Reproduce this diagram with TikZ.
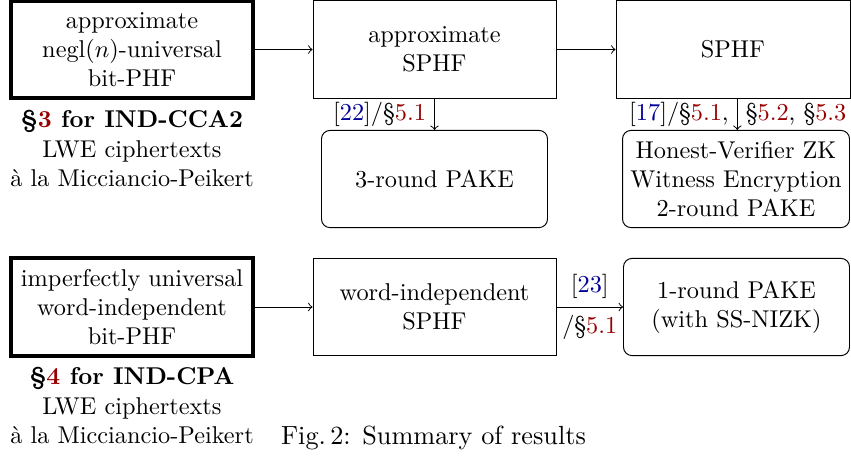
\documentclass[tikz,border=0pt]{standalone}
\usepackage{xcolor}
\definecolor{citeblue}{rgb}{0,0,0.6}
\definecolor{secred}{rgb}{0.6,0,0}
\begin{document}
\begin{tikzpicture}[x=0.41152pt,y=-0.41152pt,
  thickbox/.style={draw,line width=1.6pt,minimum width=99.6pt,minimum height=40pt,align=center,inner sep=0pt},
  plainbox/.style={draw,line width=0.4pt,minimum width=100pt,minimum height=40.3pt,align=center,inner sep=0pt},
  roundbox/.style={draw,line width=0.4pt,rounded corners=3.5pt,minimum width=93pt,minimum height=40pt,align=center,inner sep=0pt},
  arr/.style={->,line width=0.4pt},
  lbl/.style={inner sep=3.33pt}]
\useasboundingbox (0,0) rectangle (851,458);
\node[thickbox] (b1) at (132,49.5) {approximate\\negl$(n)$-universal\\bit-PHF};
\node[plainbox] (b2) at (434.5,49.5) {approximate\\SPHF};
\node[plainbox,minimum width=96.3pt] (b3) at (733,49.5) {SPHF};
\node[roundbox] (r1) at (434.5,179) {3-round PAKE};
\node[roundbox,minimum width=93.4pt] (r2) at (736,179) {Honest-Verifier ZK\\Witness Encryption\\2-round PAKE};
\node[thickbox] (b4) at (132,307) {imperfectly universal\\word-independent\\bit-PHF};
\node[plainbox] (b5) at (434.5,307) {word-independent\\SPHF};
\node[roundbox] (r3) at (736.5,307) {1-round PAKE\\(with SS-NIZK)};
\node[align=center] (t1) at (132,148.5) {\textbf{§\textcolor{secred}{3} for IND-CCA2}\\LWE ciphertexts\\à la Micciancio-Peikert};
\node[align=center] (t2) at (132,405.5) {\textbf{§\textcolor{secred}{4} for IND-CPA}\\LWE ciphertexts\\à la Micciancio-Peikert};
\node[font=\fontsize{10.8pt}{13pt}\selectfont] (cap) at (433.5,437.5) {Fig.\,2: Summary of results};
\draw[arr] (b1) -- (b2);
\draw[arr] (b2) -- (b3);
\draw[arr] (b2) -- (r1) node[midway,left,lbl] {[\textcolor{citeblue}{22}]/§\textcolor{secred}{5.1}};
\draw[arr] (b3.south -| r2.north) ++(1.3,0) coordinate (s3) -- (s3 |- r2.north)
  node[midway,left,lbl] {[\textcolor{citeblue}{17}]/§\textcolor{secred}{5.1},}
  node[midway,right,lbl] {§\textcolor{secred}{5.2}, §\textcolor{secred}{5.3}};
\draw[arr] (b4) -- (b5);
\draw[arr] (b5) -- (r3)
  node[midway,above,lbl] {[\textcolor{citeblue}{23}]}
  node[midway,below,lbl] {/§\textcolor{secred}{5.1}};
\end{tikzpicture}
\end{document}
